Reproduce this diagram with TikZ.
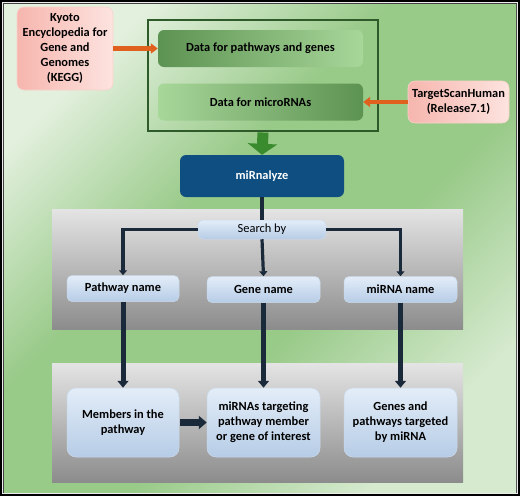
\documentclass[tikz,border=0pt]{standalone}
\usepackage{fontspec}
\setmainfont{Carlito}
\usetikzlibrary{arrows.meta}
\definecolor{navy}{HTML}{1B2A3B}
\definecolor{orng}{HTML}{E0601E}
\definecolor{frameg}{HTML}{2F5A2A}
\definecolor{arrg}{HTML}{3A8A2E}
\definecolor{mirblue}{HTML}{0F4E80}
\definecolor{pink1}{HTML}{F6B6AE}
\definecolor{pink2}{HTML}{FDE3DF}
\definecolor{pink3}{HTML}{F9D3CD}
\definecolor{blue1}{HTML}{E3EDF8}
\definecolor{blue2}{HTML}{B6CCE6}
\definecolor{blue3}{HTML}{CBDAEB}
\definecolor{grey1}{HTML}{E4E4E4}
\definecolor{grey2}{HTML}{8C8C8C}
\definecolor{bgl}{HTML}{E2F0DD}
\definecolor{bgm}{HTML}{98CA88}
\definecolor{bgr}{HTML}{D6EACF}
\definecolor{gdark}{HTML}{5C9252}
\definecolor{glight}{HTML}{A8D79A}
\pgfdeclarehorizontalshading{bgshade}{100bp}{color(0bp)=(bgl); color(25bp)=(bgl); color(42bp)=(bgm); color(58bp)=(bgm); color(75bp)=(bgr); color(100bp)=(bgr)}
\begin{document}
\begin{tikzpicture}[x=1pt,y=-1pt,
  every node/.style={font=\fontsize{12.4}{15}\selectfont\bfseries, align=center, inner sep=2pt},
  pinkbox/.style={rounded corners=7pt, left color=pink1, right color=pink2, draw=pink3, line width=0.6pt},
  greenbox/.style={rounded corners=6pt, minimum width=205pt, minimum height=37pt},
  bluebox/.style={rounded corners=5pt, top color=blue1, bottom color=blue2, draw=blue3, line width=0.5pt},
  panel/.style={top color=grey1, bottom color=grey2, minimum width=411pt, minimum height=120pt},
  branch/.style={navy, line width=3.2pt, -{Triangle[width=8pt,length=5pt]}},
  downarr/.style={navy, line width=5pt, -{Triangle[width=11pt,length=7pt]}},
  orarr/.style={orng, line width=4.5pt, -{Triangle[width=10pt,length=7pt]}}
]
\useasboundingbox (0,0) rectangle (520,496);
% outer border
\fill[black] (0,0) rectangle (520,496);
\fill[white!85!gray] (2,2) rectangle (518,494);
\fill[black!75] (3,3) rectangle (517,493);
\shade[shading=bgshade, shading angle=-45] (4,4) rectangle (516,492);

% top part
\node[pinkbox, minimum width=96pt, minimum height=83pt] (kegg) at (65,48.5)
  {Kyoto\\Encyclopedia for\\Gene and\\Genomes\\(KEGG)};
\node[draw=frameg, line width=1.5pt, minimum width=230pt, minimum height=111pt] (frame) at (263,75.5) {};
\node[greenbox, left color=gdark, right color=glight] (pw) at (260.5,48.5) {Data for pathways and genes};
\node[greenbox, left color=glight, right color=gdark] (mi) at (260.5,102) {Data for microRNAs};
\node[pinkbox, minimum width=101pt, minimum height=42pt] (ts) at (458.5,102)
  {TargetScanHuman\\(Release7.1)};
\draw[orarr] (kegg) -- (pw);
\draw[orarr] (ts) -- (mi);

\node[rounded corners=6pt, fill=mirblue, text=white, minimum width=164pt, minimum height=42pt] (mir) at (262,176) {miRnalyze};
\draw[arrg, line width=11pt, -{Triangle[width=29pt,length=11pt]}] ([yshift=-0.75pt]frame.south) -- (mir.north);

% panels
\node[panel] (p1) at (257.5,269) {};
\node[panel, minimum height=119pt] (p2) at (257.5,422.5) {};

% search
\node[bluebox, minimum width=128pt, minimum height=19pt, font=\fontsize{12.4}{15}\selectfont] (sb) at (262,229.5) {Search by};
\node[bluebox, minimum width=112pt, minimum height=26pt] (pn) at (123,288.5) {Pathway name};
\node[bluebox, minimum width=113pt, minimum height=26pt] (gn) at (263.5,289.5) {Gene name};
\node[bluebox, minimum width=113pt, minimum height=26pt] (mn) at (400.5,289.5) {miRNA name};

\draw[navy, line width=3.2pt] (mir.south) -- (sb.north);
\draw[branch] (sb.west) -| (pn.north);
\draw[branch] (sb.east) -| (mn.north);
\draw[branch] (sb.south) -- (gn.north);

% results
\node[bluebox, rounded corners=9pt, minimum width=112pt, minimum height=69pt] (mem) at (123,422.5) {Members in the\\pathway};
\node[bluebox, rounded corners=9pt, minimum width=113pt, minimum height=69pt] (mt) at (263.5,422.5) {miRNAs targeting\\pathway member\\or gene of interest};
\node[bluebox, rounded corners=9pt, minimum width=113pt, minimum height=69pt] (gp) at (400.5,422.5) {Genes and\\pathways targeted\\by miRNA};

\draw[downarr] (pn.south) -- (mem.north);
\draw[downarr] (gn.south) -- (mt.north);
\draw[downarr] (mn.south) -- (gp.north);
\draw[navy, line width=6.5pt, -{Triangle[width=13pt,length=8pt]}] ([xshift=1pt]mem.east) -- (mt.west);
\end{tikzpicture}
\end{document}
